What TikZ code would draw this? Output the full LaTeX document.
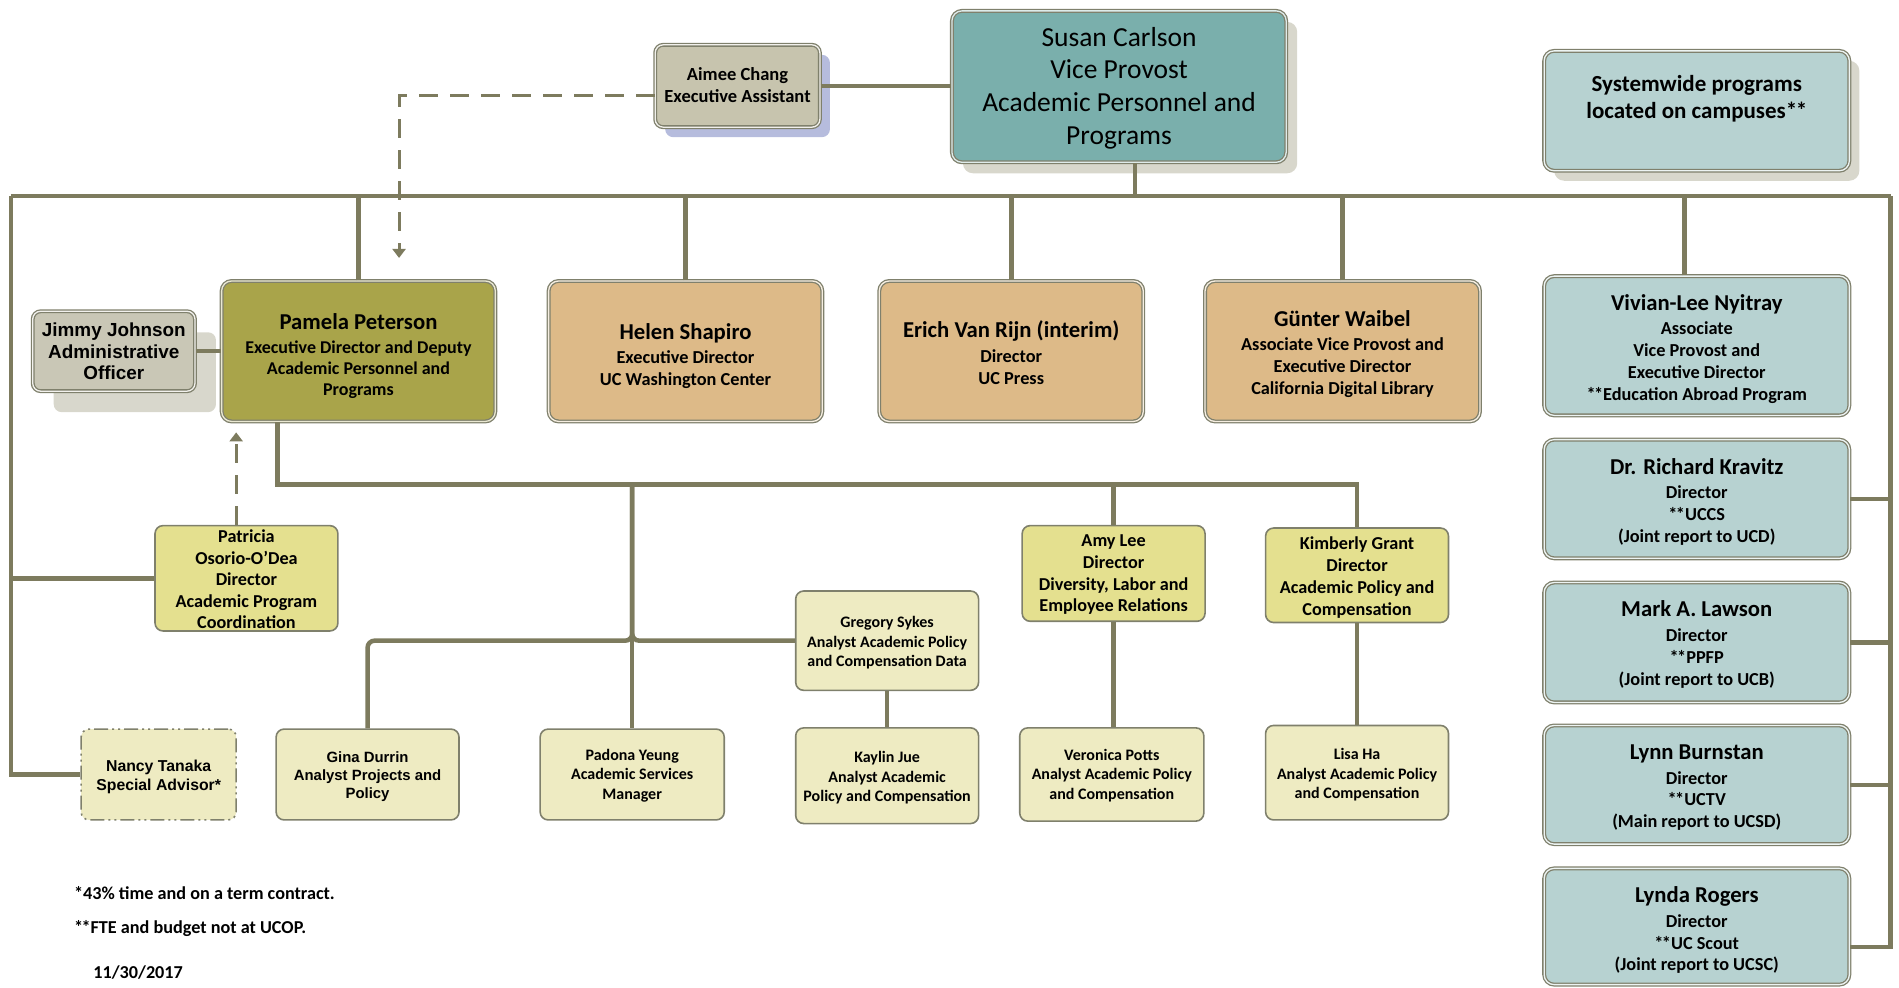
\documentclass[tikz,border=0pt]{standalone}
\usepackage{fontspec}
\setmainfont{Carlito}
\newfontfamily\arialf{Liberation Sans}
\usetikzlibrary{fit,calc,shadows,arrows.meta}
\definecolor{linec}{HTML}{7D7B5E}
\definecolor{bordc}{HTML}{7F806C}
\definecolor{susanc}{HTML}{7AAFAC}
\definecolor{aimeec}{HTML}{C7C4AE}
\definecolor{aimeesh}{HTML}{B6BCDD}
\definecolor{greysh}{HTML}{D8D7CC}
\definecolor{pamc}{HTML}{A9A44A}
\definecolor{tanc}{HTML}{DDBA88}
\definecolor{jimc}{HTML}{C9C7B6}
\definecolor{tealc}{HTML}{B7D2D1}
\definecolor{yelc}{HTML}{E4E08F}
\definecolor{lyelc}{HTML}{EEEBC2}
\newcommand{\nm}[1]{{\fontsize{22.7}{26}\selectfont #1}\\[3pt]}
\newcommand{\dstar}{{*\kern-1.6pt*}}
\begin{document}
\begin{tikzpicture}[x=1.2111pt,y=-1.2111pt,
  every label/.style={align=center,inner sep=0pt},
  conn/.style={draw=linec,line width=4.5pt},
  dashconn/.style={draw=linec,line width=3pt,dash pattern=on 19pt off 12pt},
  tip/.style={-{Triangle[width=13pt,length=9pt]}},
  box/.style={rounded corners=10pt,inner sep=0pt},
  dbl/.style={draw=bordc,line width=1.3pt,double=white!75!#1,double distance=1.3pt,fill=#1},
  single/.style={draw=bordc,line width=1.6pt,fill=#1},
  sh/.style 2 args={general shadow={fill=#1,shadow xshift=#2,shadow yshift=-#2}},
  big/.style={font=\fontsize{27.5}{32.7}\selectfont},
  med/.style={font=\bfseries\fontsize{18.3}{21.8}\selectfont},
  sml/.style={font=\bfseries\fontsize{16}{19.4}\selectfont},
  ari/.style 2 args={font=\arialf\bfseries\fontsize{#1}{#2}\selectfont},
  dn/.style={yshift=-#1},
]
\useasboundingbox (0,0) rectangle (1568,815);

% top
\node[box,dbl=susanc,sh={greysh}{11pt},fit={(786,9) (1062,134)},
  label={[big,dn=1.3pt]center:{Susan Carlson\\Vice Provost\\Academic Personnel and\\Programs}}] (susan) {};
\node[box,dbl=aimeec,sh={aimeesh}{10pt},rounded corners=8pt,fit={(541,37) (677,105)},
  label={[font=\bfseries\fontsize{18.5}{21.8}\selectfont,dn=-1pt]center:{Aimee Chang\\Executive Assistant}}] (aimee) {};
\node[box,dbl=tealc,sh={greysh}{10pt},fit={(1275,42) (1527,141)},
  label={[font=\bfseries\fontsize{23}{26.6}\selectfont,dn=-12pt]center:{Systemwide programs\\located on campuses\dstar}}] (sysw) {};

% second row
\node[box,dbl=jimc,sh={greysh}{21pt},rounded corners=8pt,fit={(27,257) (161,323)},
  label={[ari={18.9}{21.5},dn=0.5pt]center:{Jimmy Johnson\\Administrative\\Officer}}] (jimmy) {};
\node[box,dbl=pamc,fit={(183,232) (409,348)},
  label={[font=\bfseries\fontsize{18}{21}\selectfont,dn=4.7pt]center:{\nm{Pamela Peterson}Executive Director and Deputy\\Academic Personnel and\\Programs}}] (pam) {};
\node[box,dbl=tanc,fit={(453,232) (679,348)},
  label={[med,dn=4.8pt]center:{\nm{Helen Shapiro}Executive Director\\UC Washington Center}}] (helen) {};
\node[box,dbl=tanc,fit={(726,232) (944,348)},
  label={[med,dn=1.5pt]center:{\nm{Erich Van Rijn (interim)}Director\\UC Press}}] (erich) {};
\node[box,dbl=tanc,fit={(995,232) (1222,348)},
  label={[med,dn=2.7pt]center:{\nm{Günter Waibel}Associate Vice Provost and\\Executive Director\\California Digital Library}}] (gunter) {};

% right column
\node[box,dbl=tealc,fit={(1275,228) (1527,343)},
  label={[med,dn=3pt]center:{\nm{Vivian-Lee Nyitray}Associate\\Vice Provost and\\Executive Director\\\dstar Education Abroad Program}}] (viv) {};
\node[box,dbl=tealc,fit={(1275,363) (1527,461)},
  label={[med,dn=2.7pt]center:{\nm{Dr. Richard Kravitz}Director\\\dstar UCCS\\(Joint report to UCD)}}] (krav) {};
\node[box,dbl=tealc,fit={(1275,481) (1527,580)},
  label={[med,dn=1.8pt]center:{\nm{Mark A. Lawson}Director\\\dstar PPFP\\(Joint report to UCB)}}] (lawson) {};
\node[box,dbl=tealc,fit={(1275,599) (1527,697)},
  label={[med,dn=2.7pt]center:{\nm{Lynn Burnstan}Director\\\dstar UCTV\\(Main report to UCSD)}}] (burn) {};
\node[box,dbl=tealc,fit={(1275,717) (1527,813)},
  label={[med,dn=3.6pt]center:{\nm{Lynda Rogers}Director\\\dstar UC Scout\\(Joint report to UCSC)}}] (rogers) {};

% lower staff
\node[box,single=yelc,rounded corners=8pt,fit={(128,434) (279,521)},
  label={[font=\bfseries\fontsize{18.2}{21.6}\selectfont,dn=1pt]center:{Patricia\\Osorio-O’Dea\\Director\\Academic Program\\Coordination}}] (pat) {};
\node[box,single=yelc,rounded corners=8pt,fit={(844,434) (995,513)},
  label={[font=\bfseries\fontsize{18.2}{21.8}\selectfont,dn=1.2pt]center:{Amy Lee\\Director\\Diversity, Labor and\\Employee Relations}}] (amy) {};
\node[box,single=yelc,rounded corners=8pt,fit={(1045,436) (1196,514)},
  label={[font=\bfseries\fontsize{18.2}{21.8}\selectfont,dn=2.2pt]center:{Kimberly Grant\\Director\\Academic Policy and\\Compensation}}] (kim) {};
\node[box,single=lyelc,rounded corners=8pt,fit={(657,488) (808,570)},
  label={[sml,dn=2.2pt]center:{Gregory Sykes\\Analyst Academic Policy\\and Compensation Data}}] (greg) {};
\node[box,draw=bordc,fill=lyelc,line width=1.6pt,dash pattern=on 14pt off 4pt on 2pt off 4pt on 2pt off 4pt,rounded corners=8pt,fit={(67,602) (195,677)},
  label={[ari={15.8}{19.4},dn=2.2pt]center:{Nancy Tanaka\\Special Advisor*}}] (nancy) {};
\node[box,single=lyelc,rounded corners=8pt,fit={(228,602) (379,677)},
  label={[ari={14.9}{17.6},dn=2.2pt]center:{Gina Durrin\\Analyst Projects and\\Policy}}] (gina) {};
\node[box,single=lyelc,rounded corners=8pt,fit={(446,602) (598,677)},
  label={[sml,dn=1pt]center:{Padona Yeung\\Academic Services\\Manager}}] (padona) {};
\node[box,single=lyelc,rounded corners=8pt,fit={(657,601) (808,680)},
  label={[sml,dn=2.2pt]center:{Kaylin Jue\\Analyst Academic\\Policy and Compensation}}] (kay) {};
\node[box,single=lyelc,rounded corners=8pt,fit={(842,601) (994,678)},
  label={[sml,dn=1pt]center:{Veronica Potts\\Analyst Academic Policy\\and Compensation}}] (ver) {};
\node[box,single=lyelc,rounded corners=8pt,fit={(1045,599) (1196,677)},
  label={[sml,dn=2.2pt]center:{Lisa Ha\\Analyst Academic Policy\\and Compensation}}] (lisa) {};

% footnotes
\node[anchor=west,font=\bfseries\fontsize{18.2}{21}\selectfont,inner sep=0pt] (fn1) at (61,737) {*43\% time and on a term contract.};
\node[anchor=west,font=\bfseries\fontsize{18.2}{21}\selectfont,inner sep=0pt] (fn2) at (61,767) {\dstar FTE and budget not at UCOP.};
\node[anchor=west,font=\bfseries\fontsize{18.2}{21}\selectfont,inner sep=0pt] (date) at (77,803) {11/30/2017};

% connectors
\coordinate (barL) at (9,162);
\coordinate (barR) at (1561,162);
\draw[conn] (barL) -- (barR);
\coordinate (sdrop) at ($(susan.south)+(13,0)$);
\draw[conn] (sdrop) -- (sdrop |- barL);
\foreach \n in {pam,helen,erich,gunter} \draw[conn] (\n.north) -- (\n.north |- barL);
\coordinate (vdrop) at ($(viv.north)+(-10,0)$);
\draw[conn] (vdrop) -- (vdrop |- barL);
\draw[conn] (barL) |- (nancy.west);
\draw[conn] (pat.west) -- (pat.west -| barL);
\coordinate (rbot) at (1561,782);
\draw[conn] (barR) -- (rbot) -- (rbot -| rogers.east);
\foreach \n in {krav,lawson,burn} \draw[conn] (\n.east) -- (\n.east -| barR);
\draw[conn] (jimmy.east) -- (pam.west);
\draw[conn] (aimee.east) -- (aimee.east -| susan.west);
\coordinate (dtip) at (329.5,213);
\draw[dashconn,tip] ($(aimee.west)+(0,8)$) -| (dtip);
\coordinate (ptip) at (195,357);
\draw[dashconn,tip] (pat.north -| ptip) -- (ptip);

\coordinate (hline) at (0,400);
\coordinate (pdrop) at ($(pam.south)+(-67,0)$);
\draw[conn] (pdrop) |- (kim.north |- hline) -- (kim.north);
\draw[conn] (amy.north |- hline) -- (amy.north);
\coordinate (vpad) at (padona.north |- hline);
\draw[conn] (vpad) -- (padona.north);
\coordinate (gj) at (padona.north |- greg.west);
\draw[conn,rounded corners=7pt] (gina.north) |- (gj) -- (vpad);
\draw[conn,rounded corners=7pt] (greg.west) -- (gj) -- (vpad);
\draw[conn] (greg.south) -- (kay.north);
\draw[conn] (amy.south) -- (amy.south |- ver.north);
\draw[conn] (kim.south) -- (kim.south |- lisa.north);
\end{tikzpicture}
\end{document}
